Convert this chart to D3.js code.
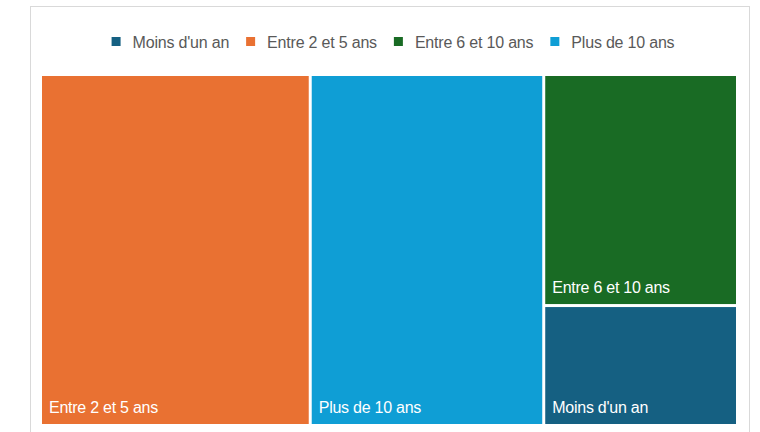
<!DOCTYPE html>
<html>
<head>
<meta charset="utf-8">
<script src="https://cdn.jsdelivr.net/npm/d3@7"></script>
<style>
  body { margin: 0; background: #fff; }
  svg { display: block; font-family: "Liberation Sans", Arial, sans-serif; }
  .legend text { fill: #595959; font-size: 16px; letter-spacing: -0.2px; }
  .tile text { fill: #fff; font-size: 16px; letter-spacing: -0.25px; }
</style>
</head>
<body>
<div id="chart"></div>
<script>
// categories (legend order) and their share
var categories = ["Moins d'un an", "Entre 2 et 5 ans", "Entre 6 et 10 ans", "Plus de 10 ans"];
var values = [9.5, 38.7, 18.3, 33.5];
var colors = ["#156082", "#E97132", "#196B24", "#0F9ED5"];

var width = 760;
var height = 432;

var svg = d3.select("div#chart").append("svg")
            .attr("width", width)
            .attr("height", height);

// chart frame, runs off the bottom of the picture
svg.append("rect")
   .attr("x", 30.5)
   .attr("y", 6.5)
   .attr("width", 719)
   .attr("height", 440)
   .attr("fill", "#fff")
   .attr("stroke", "#d9d9d9");

var color = d3.scaleOrdinal().domain(categories).range(colors);

/* legend */
var legend = svg.append("g").attr("class", "legend");
var items = legend.selectAll("g")
                  .data(categories)
                  .enter()
                  .append("g");
items.append("rect")
     .attr("width", 9)
     .attr("height", 9)
     .attr("y", 37)
     .attr("fill", function(d) { return color(d); });
items.append("text")
     .attr("x", 21)
     .attr("y", 47.5)
     .text(function(d) { return d; });

var xPos = 0;
var offsets = [];
items.each(function() {
  offsets.push(xPos);
  var w = this.querySelector("text").getComputedTextLength();
  xPos += 21 + w + 17;
});
var legendWidth = xPos - 17;
var legendStart = 393 - legendWidth / 2;
items.attr("transform", function(d, i) {
  return "translate(" + (legendStart + offsets[i]) + ",0)";
});

/* treemap */
var root = d3.hierarchy({children: categories.map(function(c, i) {
               return {name: c, value: values[i]};
             })})
             .sum(function(d) { return d.value; })
             .sort(function(a, b) { return b.value - a.value; });

d3.treemap()
  .tile(d3.treemapSquarify.ratio(1))
  .size([694, 348])
  .paddingInner(3)(root);

var tiles = svg.append("g")
               .attr("transform", "translate(42,76)")
               .selectAll("g")
               .data(root.leaves())
               .enter()
               .append("g")
               .attr("class", "tile")
               .attr("transform", function(d) {
                 return "translate(" + d.x0 + "," + d.y0 + ")";
               });

tiles.append("rect")
     .attr("width", function(d) { return d.x1 - d.x0; })
     .attr("height", function(d) { return d.y1 - d.y0; })
     .attr("fill", function(d) { return color(d.data.name); });

tiles.append("text")
     .attr("x", 7)
     .attr("y", function(d) { return d.y1 - d.y0 - 11; })
     .text(function(d) { return d.data.name; });
</script>
</body>
</html>
